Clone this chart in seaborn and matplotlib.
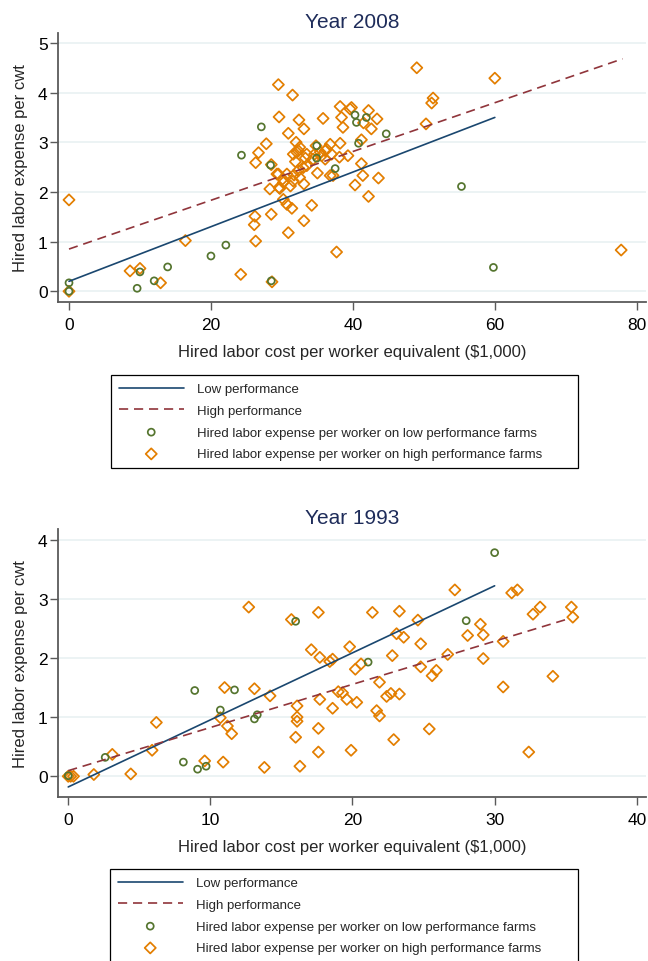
import matplotlib
matplotlib.use("Agg")
import matplotlib.pyplot as plt
import numpy as np
import pandas as pd
import seaborn as sns

## Colours (Stata s2color look)
navy = "#1a476f"
maroon = "#90353b"
green = "#55752f"
orange = "#e37e00"
title_color = "#1e2c5a"
grid_color = "#eaf2f3"
spine_color = "#5a5a5a"

label_low_line = "Low performance"
label_high_line = "High performance"
label_low_pts = "Hired labor expense per worker on low performance farms"
label_high_pts = "Hired labor expense per worker on high performance farms"

## Year 2008 -----------------------------------------------------------------
fit_low_2008_x = [0, 60]
fit_low_2008_y = [0.2, 3.5]
fit_high_2008_x = [0, 78]
fit_high_2008_y = [0.85, 4.68]

low_2008_x = [0, 0, 9.6, 10, 12, 13.9, 20, 22.1, 24.3, 27.1, 28.5, 28.4, 34.9,
              34.9, 37.5, 40.3, 40.5, 41.9, 40.8, 44.7, 55.3, 59.8]
low_2008_y = [0.17, 0.0, 0.06, 0.39, 0.21, 0.49, 0.71, 0.93, 2.74, 3.31, 0.21,
              2.54, 2.93, 2.68, 2.47, 3.55, 3.40, 3.50, 2.98, 3.17, 2.11, 0.48]

high_2008_x = [0, 0, 8.6, 10.0, 12.9, 16.4, 24.2, 26.3, 26.1, 26.2, 26.3, 26.7,
               27.8, 28.5, 28.3, 28.5, 28.6, 29.5, 29.6, 29.5, 29.7, 30.1, 30.2,
               30.7, 30.9, 30.9, 31.2, 31.4, 31.5, 31.7, 31.9, 32.0, 32.1, 32.4,
               32.5, 33.1, 33.0, 33.1, 33.1, 33.3, 34.2, 34.4, 34.8, 35.0, 35.8,
               35.4, 36.3, 36.8, 38.2, 39.6, 38.4, 38.6, 39.8, 42.2, 41.5, 42.6,
               43.4, 38.2, 36.8, 37.0, 38.1, 39.3, 41.2, 41.2, 41.4, 43.6, 40.3,
               42.2, 37.2, 37.7, 49.0, 51.3, 51.1, 50.3, 60.0, 77.8, 36.1, 35.6,
               33.5, 32.3, 31.6, 32.3, 33.5, 34.6, 36.1, 32.5, 31.6, 30.7, 29.3,
               30.2, 29.6]
high_2008_y = [1.84, 0.0, 0.41, 0.46, 0.17, 1.02, 0.34, 1.01, 1.34, 1.51, 2.59,
               2.79, 2.97, 2.55, 2.06, 1.55, 0.19, 4.16, 3.51, 2.36, 2.07, 2.26,
               1.85, 1.75, 3.18, 1.18, 2.12, 1.67, 3.95, 2.34, 2.61, 3.00, 2.80,
               3.45, 2.90, 3.27, 2.49, 2.16, 1.42, 2.68, 1.73, 2.66, 2.93, 2.38,
               3.48, 2.80, 2.86, 2.33, 3.72, 3.67, 3.50, 3.30, 3.70, 3.64, 3.39,
               3.27, 3.47, 2.98, 2.96, 2.76, 2.70, 2.73, 3.05, 2.57, 2.33, 2.28,
               2.14, 1.91, 2.33, 0.79, 4.50, 3.89, 3.79, 3.37, 4.29, 0.83, 2.83,
               2.73, 2.53, 2.43, 2.76, 2.83, 2.76, 2.76, 2.66, 2.29, 2.22, 2.36,
               2.36, 2.19, 2.09]

## Year 1993 -----------------------------------------------------------------
fit_low_1993_x = [0, 30]
fit_low_1993_y = [-0.18, 3.22]
fit_high_1993_x = [0, 35.3]
fit_high_1993_y = [0.095, 2.67]

low_1993_x = [0, 2.6, 8.1, 8.9, 9.1, 9.7, 10.7, 11.7, 13.1, 13.3, 16.0, 21.1,
              28.0, 30.0]
low_1993_y = [0.01, 0.32, 0.24, 1.45, 0.12, 0.17, 1.12, 1.46, 0.97, 1.04, 2.62,
              1.93, 2.63, 3.78]

high_1993_x = [0, 0.17, 0.37, 1.8, 3.1, 4.4, 5.9, 6.2, 9.6, 10.9, 10.7, 11.0,
               11.2, 11.5, 12.7, 13.1, 13.8, 14.2, 15.7, 16.0, 16.1, 16.1, 16.1,
               16.3, 17.1, 17.6, 17.7, 17.7, 17.6, 17.6, 18.4, 18.6, 19.8, 20.2,
               20.6, 21.9, 18.6, 19.0, 19.3, 19.6, 20.3, 21.7, 21.9, 19.9, 21.4,
               23.3, 24.6, 23.1, 23.6, 24.8, 22.8, 24.8, 25.6, 25.9, 26.7, 27.2,
               29.0, 29.2, 28.1, 29.2, 30.6, 30.6, 31.2, 31.6, 32.7, 33.2, 35.4,
               35.5, 34.1, 32.4, 25.4, 22.9, 23.3, 22.4, 22.7]
high_1993_y = [0.0, 0.0, 0.0, 0.03, 0.37, 0.04, 0.44, 0.91, 0.26, 0.24, 0.99,
               1.50, 0.85, 0.72, 2.86, 1.48, 0.15, 1.36, 2.65, 0.66, 1.19, 1.00,
               0.93, 0.17, 2.14, 2.77, 2.01, 1.30, 0.81, 0.41, 1.94, 1.98, 2.19,
               1.81, 1.90, 1.59, 1.15, 1.43, 1.41, 1.30, 1.25, 1.11, 1.02, 0.44,
               2.77, 2.79, 2.64, 2.41, 2.35, 2.24, 2.04, 1.85, 1.70, 1.79, 2.06,
               3.15, 2.57, 2.39, 2.38, 1.99, 2.28, 1.51, 3.10, 3.15, 2.74, 2.86,
               2.86, 2.69, 1.69, 0.41, 0.80, 0.62, 1.39, 1.35, 1.40]

xlabel = "Hired labor cost per worker equivalent ($1,000)"
ylabel = "Hired labor expense per cwt"

sns.set_theme(style = "white")
plt.rcParams["font.family"] = ["Liberation Sans", "DejaVu Sans"]

W, H = 648, 962

def px_axes(fig, left, top, right, bottom):
    return fig.add_axes([left / W, 1 - bottom / H, (right - left) / W,
                         (bottom - top) / H])

def plot_panel(ax, title, fit_low, fit_high, pts_low, pts_high,
               xticks, yticks, xlim, ylim):
    for y in yticks:
        ax.axhline(y, color = grid_color, linewidth = 1.3, zorder = 0)

    sns.scatterplot(x = pts_high[0], y = pts_high[1], ax = ax, marker = "D",
                    s = 32, color = orange, facecolor = "none",
                    edgecolor = orange, linewidth = 1.25, label = label_high_pts,
                    zorder = 3)
    sns.scatterplot(x = pts_low[0], y = pts_low[1], ax = ax, marker = "o",
                    s = 25, color = green, facecolor = "none",
                    edgecolor = green, linewidth = 1.25, label = label_low_pts,
                    zorder = 3)
    sns.lineplot(x = fit_low[0], y = fit_low[1], ax = ax, color = navy,
                 linewidth = 1.2, label = label_low_line, zorder = 4)
    sns.lineplot(x = fit_high[0], y = fit_high[1], ax = ax, color = maroon,
                 linewidth = 1.2, linestyle = (0, (5.5, 3.5)),
                 label = label_high_line, zorder = 4)

    leg = ax.get_legend()
    if leg is not None: leg.remove()

    ax.set_xlim(*xlim)
    ax.set_ylim(*ylim)
    ax.set_xticks(xticks)
    ax.set_yticks(yticks)
    ax.set_title(title, fontsize = 15, color = title_color, pad = 4)
    ax.set_xlabel(xlabel, fontsize = 12, labelpad = 9)
    ax.set_ylabel(ylabel, fontsize = 12, labelpad = 7)

    for side in ["top", "right"]:
        ax.spines[side].set_visible(False)
    for side in ["left", "bottom"]:
        ax.spines[side].set_color(spine_color)
        ax.spines[side].set_linewidth(1.3)

    ax.tick_params(axis = "both", direction = "out", length = 5.5, width = 1,
                   color = spine_color, labelsize = 12.5, labelcolor = "black",
                   left = True, bottom = True)
    ax.tick_params(axis = "y", pad = 2)
    ax.tick_params(axis = "x", pad = 5)

def panel_legend(fig, ax, left, top, right):
    handles, labels = ax.get_legend_handles_labels()
    order = [label_low_line, label_high_line, label_low_pts, label_high_pts]
    h = [handles[labels.index(i)] for i in order]

    leg = fig.legend(h, order, loc = "upper left",
                     bbox_to_anchor = (left / W, 1 - top / H,
                                       (right - left) / W, 0.0),
                     mode = "expand", fontsize = 9.5, frameon = True,
                     fancybox = False, edgecolor = "black", framealpha = 1,
                     borderpad = 0.6, labelspacing = 0.72, handlelength = 4.9,
                     handletextpad = 1.05, borderaxespad = 0)
    leg.get_frame().set_linewidth(0.9)

fig = plt.figure(figsize = (W / 100, H / 100), dpi = 100)

ax_1 = px_axes(fig, 58, 34, 646, 303)
plot_panel(ax_1, "Year 2008",
           (fit_low_2008_x, fit_low_2008_y), (fit_high_2008_x, fit_high_2008_y),
           (low_2008_x, low_2008_y), (high_2008_x, high_2008_y),
           [0, 20, 40, 60, 80], [0, 1, 2, 3, 4, 5],
           (-1.55, 81.3), (-0.216, 5.2))
panel_legend(fig, ax_1, 111, 376, 578)

ax_2 = px_axes(fig, 58, 530, 646, 798)
plot_panel(ax_2, "Year 1993",
           (fit_low_1993_x, fit_low_1993_y), (fit_high_1993_x, fit_high_1993_y),
           (low_1993_x, low_1993_y), (high_1993_x, high_1993_y),
           [0, 10, 20, 30, 40], [0, 1, 2, 3, 4],
           (-0.72, 40.65), (-0.35, 4.18))
panel_legend(fig, ax_2, 110, 870, 578)

fig.savefig("out.png", dpi = 100)
